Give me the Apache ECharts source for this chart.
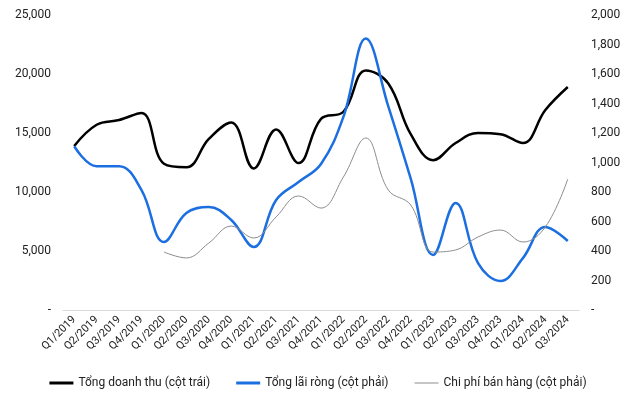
<!DOCTYPE html>
<html><head><meta charset="utf-8">
<script src="https://cdn.jsdelivr.net/npm/echarts@6/dist/echarts.min.js"></script>
<style>html,body{margin:0;padding:0;background:#fff}#c{width:636px;height:404px}</style>
</head><body><div id="c"></div>
<script>
const categories = ['Q1/2019','Q2/2019','Q3/2019','Q4/2019','Q1/2020','Q2/2020','Q3/2020','Q4/2020','Q1/2021','Q2/2021','Q3/2021','Q4/2021','Q1/2022','Q2/2022','Q3/2022','Q4/2022','Q1/2023','Q2/2023','Q3/2023','Q4/2023','Q1/2024','Q2/2024','Q3/2024'];
const revenue = [13900,15700,16100,16700,12400,12100,14500,15900,12000,15300,12450,16200,16800,20300,19200,14900,12700,14150,15000,14900,14150,16950,18900];
const netProfit = [1110,975,975,813,461,657,698,610,427,746,868,990,1310,1840,1380,890,373,726,318,197,352,563,468];
const sellingCost = [null,null,null,null,393,353,454,569,488,631,773,691,902,1166,813,712,393,407,495,542,461,563,888];
const seriesNames = ['Tổng doanh thu (cột trái)','Tổng lãi ròng (cột phải)','Chi phí bán hàng (cột phải)'];

const chart = echarts.init(document.getElementById('c'));
const fmt = v => v === 0 ? '-' : v.toLocaleString('en-US');
chart.setOption({
  animation:false,
  textStyle:{fontFamily:'Roboto'},
  grid:{left:63,right:57,top:15,bottom:94},
  legend:{bottom:10,left:'center',itemWidth:24,itemHeight:3,itemGap:26,symbolKeepAspect:true,
    textStyle:{fontSize:12,color:'#222',fontFamily:'Roboto'},
    data:[
      {name:seriesNames[0],icon:'rect'},
      {name:seriesNames[1],icon:'rect'},
      {name:seriesNames[2],icon:'path://M0,0H24V1H0Z'}
    ]},
  xAxis:{type:'category',data:categories,boundaryGap:true,
    axisLine:{lineStyle:{color:'#d9d9d9'}},axisTick:{show:false},
    axisLabel:{rotate:45,fontSize:11,color:'#222',interval:0,margin:8}},
  yAxis:[
    {type:'value',min:0,max:25000,interval:5000,splitLine:{show:false},
     axisLabel:{formatter:fmt,fontSize:12,color:'#222',margin:12}},
    {type:'value',min:0,max:2000,interval:200,splitLine:{show:false},
     axisLabel:{formatter:fmt,fontSize:12,color:'#222',margin:12}}
  ],
  series:[
    {name:seriesNames[0],type:'line',yAxisIndex:0,data:revenue,smooth:0.4,symbol:'none',
     lineStyle:{color:'#000',width:2.5},itemStyle:{color:'#000'}},
    {name:seriesNames[1],type:'line',yAxisIndex:1,data:netProfit,smooth:0.4,symbol:'none',
     lineStyle:{color:'#1b6fe0',width:2.5},itemStyle:{color:'#1b6fe0'}},
    {name:seriesNames[2],type:'line',yAxisIndex:1,data:sellingCost,smooth:0.4,symbol:'none',
     lineStyle:{color:'#8c8c8c',width:1},itemStyle:{color:'#8c8c8c'}}
  ]
});
</script></body></html>
